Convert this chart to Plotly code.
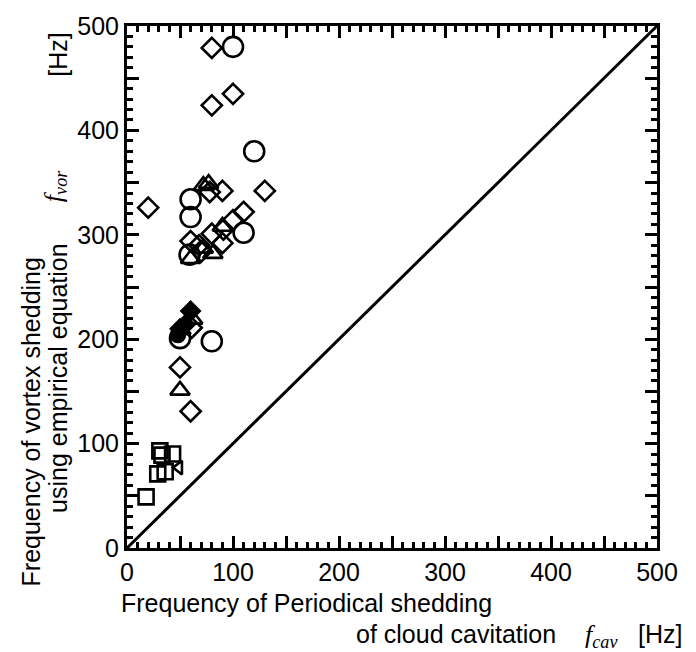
import plotly.graph_objects as go

# ---- data ----
circle_x = [100, 120, 60, 60, 110, 59, 50, 80]
circle_y = [480, 380, 334, 317, 302, 281, 201, 198]

diamond_x = [80, 100, 80, 78, 90, 130, 20, 110, 100, 91, 80, 60, 90, 70, 68, 61, 50, 60]
diamond_y = [479, 435, 424, 341, 342, 342, 326, 322, 314, 305, 301, 294, 292, 284, 290, 211, 173, 131]

triangle_x = [72, 77, 90, 81, 72, 60, 62, 50]
triangle_y = [347, 349, 308, 282, 287, 277, 219, 151]

square_x = [31, 33, 43, 29, 36, 18]
square_y = [93, 89, 90, 71, 73, 49]

filled_diamond_x = [60, 50, 55]
filled_diamond_y = [227, 210, 214]

filled_circle_x = [48]
filled_circle_y = [204]

filled_triangle_x = [53]
filled_triangle_y = [208]

tri_left_x = [49]
tri_left_y = [77]

diag = [0, 500]

label_vals = [0, 100, 200, 300, 400, 500]
label_text = ["0", "100", "200", "300", "400", "500"]
half_vals = [50, 150, 250, 350, 450]

BLACK = "black"
LW = 2.6

fig = go.Figure()
fig.add_trace(go.Scatter(x=diag, y=diag, mode="lines",
                         line=dict(color=BLACK, width=3), showlegend=False))


def add(xs, ys, symbol, size, fill=False):
    fig.add_trace(go.Scatter(
        x=xs, y=ys, mode="markers", showlegend=False,
        marker=dict(symbol=symbol, size=size,
                    color=BLACK if fill else "rgba(0,0,0,0)",
                    line=dict(color=BLACK, width=LW))))


add(square_x, square_y, "square", 15)
add(tri_left_x, tri_left_y, "triangle-left", 12)
add(triangle_x, triangle_y, "triangle-up", 17)
add(circle_x, circle_y, "circle", 20)
add(diamond_x, diamond_y, "diamond", 15.5)
add(filled_triangle_x, filled_triangle_y, "triangle-up", 13, True)
add(filled_circle_x, filled_circle_y, "circle", 14, True)
add(filled_diamond_x, filled_diamond_y, "diamond", 14, True)

# invisible trace on the overlay axes (carries the 50-step long ticks)
fig.add_trace(go.Scatter(x=[0], y=[0], xaxis="x2", yaxis="y2", mode="markers",
                         marker=dict(opacity=0), showlegend=False, hoverinfo="skip"))

axis_common = dict(
    range=[0, 500], showgrid=False, zeroline=False,
    showline=True, linecolor=BLACK, linewidth=3, mirror="allticks",
    ticks="inside", ticklen=12, tickwidth=2.5, tickcolor=BLACK,
    tickmode="array", tickvals=label_vals, ticktext=label_text,
    minor=dict(dtick=10, ticks="inside", ticklen=6, tickwidth=2.5, tickcolor=BLACK),
    tickfont=dict(family="Liberation Sans, Arial", size=25, color=BLACK),
)
overlay_common = dict(
    range=[0, 500], showgrid=False, zeroline=False,
    showline=True, linecolor=BLACK, linewidth=3, mirror="allticks",
    ticks="inside", ticklen=12, tickwidth=2.5, tickcolor=BLACK,
    tickmode="array", tickvals=half_vals, showticklabels=False,
)

L, R, T, B = 127, 39, 20, 104
W, H = 696, 652
PW, PH = W - L - R, H - T - B


def px2paper(px, py):
    return (px - L) / PW, (H - B - py) / PH


FONT = dict(family="Liberation Sans, Arial", size=25, color=BLACK)
SERIF_FONT = dict(family="Liberation Serif, Times New Roman, serif", size=26, color=BLACK)


def anno(text, px, py, xanchor="center", yanchor="middle", angle=0, font=FONT):
    x, y = px2paper(px, py)
    return dict(text=text, x=x, y=y, xref="paper", yref="paper", showarrow=False,
                xanchor=xanchor, yanchor=yanchor, textangle=angle, font=font)


annos = [
    anno("Frequency of Periodical shedding", 119, 604, xanchor="left"),
    anno("of cloud cavitation", 558, 635, xanchor="right"),
    anno("<i>f</i><sub><i>cav</i></sub>", 583, 637, xanchor="left", font=SERIF_FONT),
    anno("[Hz]", 684, 635, xanchor="right"),
    anno("Frequency of vortex shedding", 31, 421, angle=-90),
    anno("using empirical equation", 58, 376, angle=-90),
    anno("<i>f</i><sub><i>vor</i></sub>", 55, 182, angle=-90, font=SERIF_FONT),
    anno("[Hz]", 58, 49, angle=-90),
]

fig.update_layout(
    width=W, height=H, margin=dict(l=L, r=R, t=T, b=B),
    paper_bgcolor="white", plot_bgcolor="white",
    annotations=annos,
    xaxis=axis_common, yaxis=axis_common,
    xaxis2=dict(overlaying="x", anchor="y2", **overlay_common),
    yaxis2=dict(overlaying="y", anchor="x2", **overlay_common),
)

fig.write_html("out.html")
